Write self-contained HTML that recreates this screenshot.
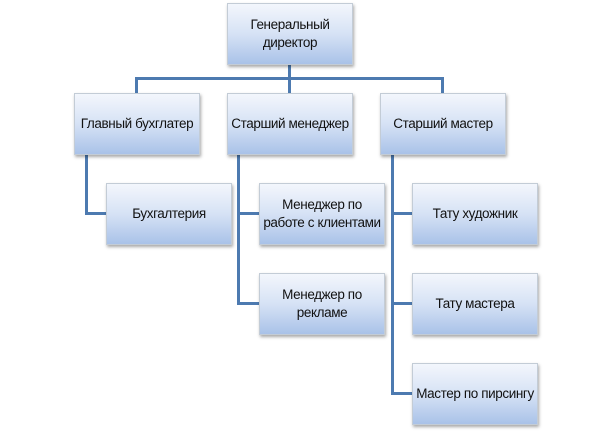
<!DOCTYPE html>
<html><head><meta charset="utf-8"><style>
html,body{margin:0;padding:0;background:#fff;}
body{width:611px;height:432px;position:relative;overflow:hidden;font-family:"Liberation Sans","DejaVu Sans",sans-serif;}
.b{position:absolute;width:126px;height:62px;box-sizing:border-box;border:1px solid #c3ccd6;
background:linear-gradient(to bottom,#f3f6fc 0%,#d6e2f5 50%,#a9c2e8 100%);
box-shadow:1px 2px 3px rgba(0,0,0,0.35);display:flex;align-items:center;justify-content:center;text-align:center;
font-size:13.5px;line-height:18px;color:#111;letter-spacing:-0.4px;}
.l{position:absolute;background:#4d7ab0;}
</style></head><body>
<div class="l" style="left:288px;top:65px;width:3px;height:28px"></div>
<div class="l" style="left:135px;top:77px;width:309px;height:3px"></div>
<div class="l" style="left:135px;top:77px;width:3px;height:16px"></div>
<div class="l" style="left:441px;top:77px;width:3px;height:16px"></div>
<div class="l" style="left:85px;top:155px;width:3px;height:59px"></div>
<div class="l" style="left:85px;top:212px;width:21px;height:3px"></div>
<div class="l" style="left:237px;top:155px;width:3px;height:150px"></div>
<div class="l" style="left:237px;top:212px;width:22px;height:3px"></div>
<div class="l" style="left:237px;top:302px;width:22px;height:3px"></div>
<div class="l" style="left:391px;top:155px;width:3px;height:240px"></div>
<div class="l" style="left:391px;top:212px;width:21px;height:3px"></div>
<div class="l" style="left:391px;top:302px;width:21px;height:3px"></div>
<div class="l" style="left:391px;top:392px;width:21px;height:3px"></div>
<div class="b" style="left:227px;top:3px">Генеральный<br>директор</div>
<div class="b" style="left:74px;top:93px">Главный бухглатер</div>
<div class="b" style="left:227px;top:93px">Старший менеджер</div>
<div class="b" style="left:380px;top:93px">Старший мастер</div>
<div class="b" style="left:106px;top:183px">Бухгалтерия</div>
<div class="b" style="left:259px;top:183px">Менеджер по<br>работе с клиентами</div>
<div class="b" style="left:259px;top:273px">Менеджер по<br>рекламе</div>
<div class="b" style="left:412px;top:183px">Тату художник</div>
<div class="b" style="left:412px;top:273px">Тату мастера</div>
<div class="b" style="left:412px;top:363px">Мастер по пирсингу</div>
</body></html>
